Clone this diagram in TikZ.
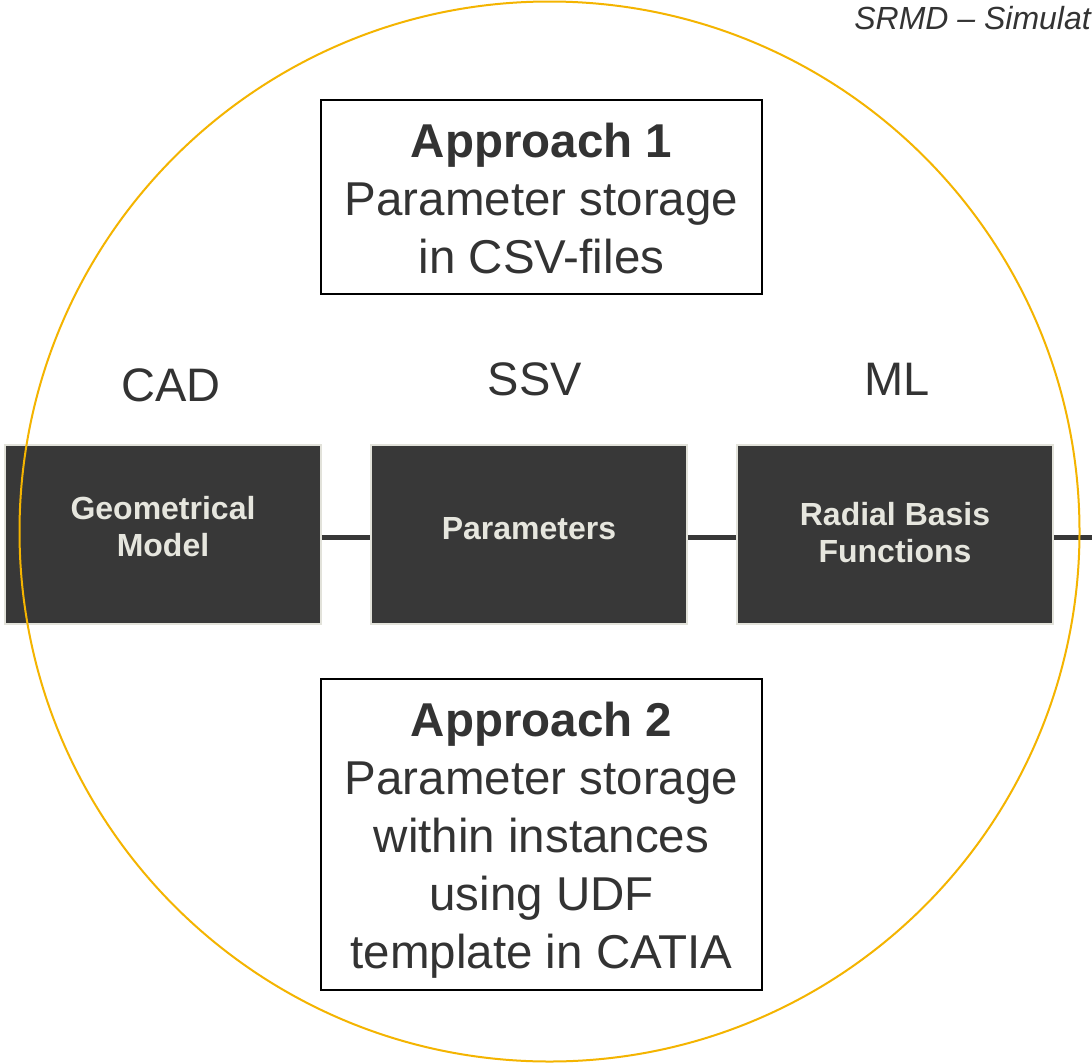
\documentclass[tikz,border=0pt]{standalone}
\usepackage{fontspec}
\setmainfont{Liberation Sans}
\begin{document}
\begin{tikzpicture}[x=1pt,y=-1pt,
  darkbox/.style={draw=boxedge, line width=1.5pt, fill=boxfill, minimum width=316pt, minimum height=179pt, inner sep=0pt},
  boxlbl/.style={inner sep=0pt, text=boxtext, font=\bfseries\fontsize{32}{37}\selectfont, align=center},
  appbox/.style={draw=black, line width=1.5pt, fill=white, minimum width=441pt, inner sep=0pt},
  apptxt/.style={inner sep=0pt, text=txt, font=\fontsize{47.5}{58}\selectfont, align=center},
  lbl/.style={text=txt, font=\fontsize{47}{56}\selectfont, inner sep=0pt, anchor=base},
  link/.style={draw=boxfill, line width=5pt}
]
\definecolor{boxfill}{HTML}{383838}
\definecolor{boxedge}{HTML}{E2E2DA}
\definecolor{boxtext}{HTML}{E6E6DE}
\definecolor{txt}{HTML}{333333}
\definecolor{ring}{HTML}{F4B400}
\useasboundingbox (0,0) rectangle (1092,1063);
\clip (0,0) rectangle (1092,1063);
\fill[white] (0,0) rectangle (1092,1063);
\coordinate (edge) at (1092,537);
\node[darkbox] (geo) at (163,534.5) {};
\node[darkbox] (par) at (529,534.5) {};
\node[darkbox] (rbf) at (895,534.5) {};
\node[boxlbl] (geot) at (163,526.5) {Geometrical\\Model};
\node[boxlbl] (part) at (529,528.5) {Parameters};
\node[boxlbl] (rbft) at (895,532.5) {Radial Basis\\Functions};
\draw[link] (geo.east|-0,537) -- (par.west|-0,537);
\draw[link] (par.east|-0,537) -- (rbf.west|-0,537);
\draw[link] (rbf.east|-0,537) -- (edge);
\draw[ring, line width=2pt] (549.5,531.5) circle[radius=530];
\node[appbox, minimum height=194pt] (app1) at (541.5,197) {};
\node[apptxt] (app1t) at (541.5,199) {\textbf{Approach 1}\\Parameter storage\\in CSV-files};
\node[appbox, minimum height=311pt] (app2) at (541.5,834.5) {};
\node[apptxt] (app2t) at (541.5,840.5) {\textbf{Approach 2}\\Parameter storage\\within instances\\using UDF\\template in CATIA};
\node[lbl] (cad) at (171,401) {CAD};
\node[lbl] (ssv) at (535,395) {SSV};
\node[lbl] (ml) at (897,395) {ML};
\node[text=txt, font=\itshape\fontsize{32}{36}\selectfont, inner sep=0pt, anchor=base east] (hdr) at (1091,29) {SRMD – Simulat};
\end{tikzpicture}
\end{document}
